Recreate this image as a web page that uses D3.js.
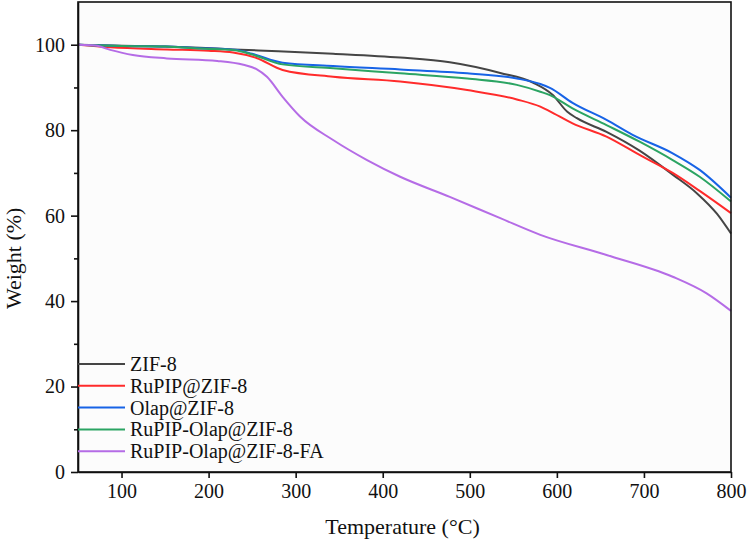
<!DOCTYPE html>
<html>
<head>
<meta charset="utf-8">
<script src="https://cdn.jsdelivr.net/npm/d3@7"></script>
<style>
  body { margin: 0; background: #fff; }
  svg text { font-family: "Liberation Serif", "DejaVu Serif", "Times New Roman", Times, serif !important; fill: #111; }
</style>
</head>
<body>
<div id="graphic"></div>
<script>
// TGA curves, temperature (°C) vs weight (%)
const seriesNames = ["ZIF-8", "RuPIP@ZIF-8", "Olap@ZIF-8", "RuPIP-Olap@ZIF-8", "RuPIP-Olap@ZIF-8-FA"];
const colours = ["#454545", "#ff2b2b", "#1763e6", "#2ba463", "#b56ce6"];

const zif8 = [[50,100],[90,99.8],[150,99.6],[190,99.3],[228,98.9],[280,98.5],[343,97.9],[420,97.0],[477,95.9],[535,93.4],[573,91.1],[595,88.3],[612,84.3],[623,82.8],[657,79.6],[695,75.2],[733,69.6],[761,65.2],[784,60.4],[800,55.8]];
const rupip = [[50,100],[87,99.4],[152,98.9],[200,98.6],[228,98.2],[255,96.9],[285,94.1],[343,92.5],[420,91.4],[497,89.4],[554,87.2],[581,85.5],[592,84.4],[618,81.6],[657,78.5],[695,74.2],[733,70.0],[764,65.8],[800,60.6]];
const olap = [[50,100],[100,99.7],[150,99.6],[190,99.2],[230,98.8],[250,97.9],[285,95.8],[343,95.0],[420,94.2],[497,93.3],[554,92.1],[581,90.8],[592,89.9],[618,86.4],[657,82.4],[687,78.9],[733,74.6],[764,70.7],[800,64.2]];
const rupipOlap = [[50,100],[100,99.7],[150,99.6],[190,99.1],[230,98.7],[250,97.7],[285,95.4],[343,94.5],[420,93.3],[497,92.1],[554,90.6],[581,89.0],[592,88.2],[618,85.1],[657,81.2],[695,77.3],[733,73.0],[764,69.1],[800,63.3]];
const rupipOlapFA = [[50,100],[70,99.8],[87,98.8],[113,97.6],[152,96.8],[210,96.2],[240,95.3],[255,94.3],[267,92.5],[285,87.8],[305,83.2],[343,77.7],[382,73.0],[420,69.1],[477,64.4],[535,59.4],[581,55.5],[657,50.8],[733,45.7],[772,41.8],[800,37.7]];
const allSeries = [zif8, rupip, olap, rupipOlap, rupipOlapFA];

const xTicks = [100, 200, 300, 400, 500, 600, 700, 800];
const yTicks = [0, 20, 40, 60, 80, 100];
const yMinorTicks = [10, 30, 50, 70, 90];

function drawGraphic() {
  const width = 756, height = 544;
  const margin = {top: 2, right: 25, bottom: 72, left: 78};
  const chart_width = width - margin.left - margin.right;
  const chart_height = height - margin.top - margin.bottom;

  const svg = d3.select('#graphic').append('svg')
    .attr('width', width).attr('height', height)
    .append('g')
    .attr('transform', 'translate(' + margin.left + ',' + margin.top + ')');

  const x = d3.scaleLinear().domain([50, 800]).range([0, chart_width]);
  const y = d3.scaleLinear().domain([0, 110]).range([chart_height, 0]);

  // faint plot background
  svg.append('rect')
    .attr('width', chart_width).attr('height', chart_height)
    .attr('fill', '#fcfcfc');

  const line = d3.line()
    .curve(d3.curveMonotoneX)
    .x(d => x(d[0]))
    .y(d => y(d[1]));

  svg.append('g').selectAll('path')
    .data(allSeries)
    .join('path')
    .attr('d', d => line(d))
    .attr('fill', 'none')
    .attr('stroke', (d, i) => colours[i])
    .attr('stroke-width', 2);

  // x axis
  const xAxis = svg.append('g')
    .attr('transform', 'translate(0,' + chart_height + ')')
    .call(d3.axisBottom(x).tickValues(xTicks).tickSize(6).tickPadding(6).tickSizeOuter(0));
  xAxis.selectAll('text').style('font-size', '20px');

  // y axis
  const yAxis = svg.append('g')
    .call(d3.axisLeft(y).tickValues(yTicks).tickSize(7).tickPadding(6).tickSizeOuter(0));
  yAxis.selectAll('text').style('font-size', '20px');

  svg.append('g')
    .call(d3.axisLeft(y).tickValues(yMinorTicks).tickSize(4).tickFormat('').tickSizeOuter(0))
    .select('.domain').remove();

  svg.selectAll('.domain, .tick line').attr('stroke', '#111').attr('stroke-width', 1.6);

  // frame
  svg.append('rect')
    .attr('width', chart_width).attr('height', chart_height)
    .attr('fill', 'none')
    .attr('stroke', '#111')
    .attr('stroke-width', 1.6);

  // axis titles
  svg.append('text')
    .attr('x', x(425) - 2)
    .attr('y', chart_height + 62)
    .attr('text-anchor', 'middle')
    .style('font-size', '22px')
    .text('Temperature (°C)');

  svg.append('text')
    .attr('transform', 'translate(' + (-57) + ',' + y(50) + ') rotate(-90)')
    .attr('text-anchor', 'middle')
    .style('font-size', '22px')
    .text('Weight (%)');

  // legend
  const legend = svg.append('g').attr('transform', 'translate(0,' + (364 - margin.top) + ')');
  const item = legend.selectAll('g')
    .data(seriesNames)
    .join('g')
    .attr('transform', (d, i) => 'translate(0,' + (i * 21.8) + ')');

  item.append('line')
    .attr('x1', 0).attr('x2', 47)
    .attr('stroke', (d, i) => colours[i])
    .attr('stroke-width', 2);

  item.append('text')
    .attr('x', 52)
    .attr('dy', '0.35em')
    .style('font-size', '20px')
    .text(d => d);
}

drawGraphic();
</script>
</body>
</html>
